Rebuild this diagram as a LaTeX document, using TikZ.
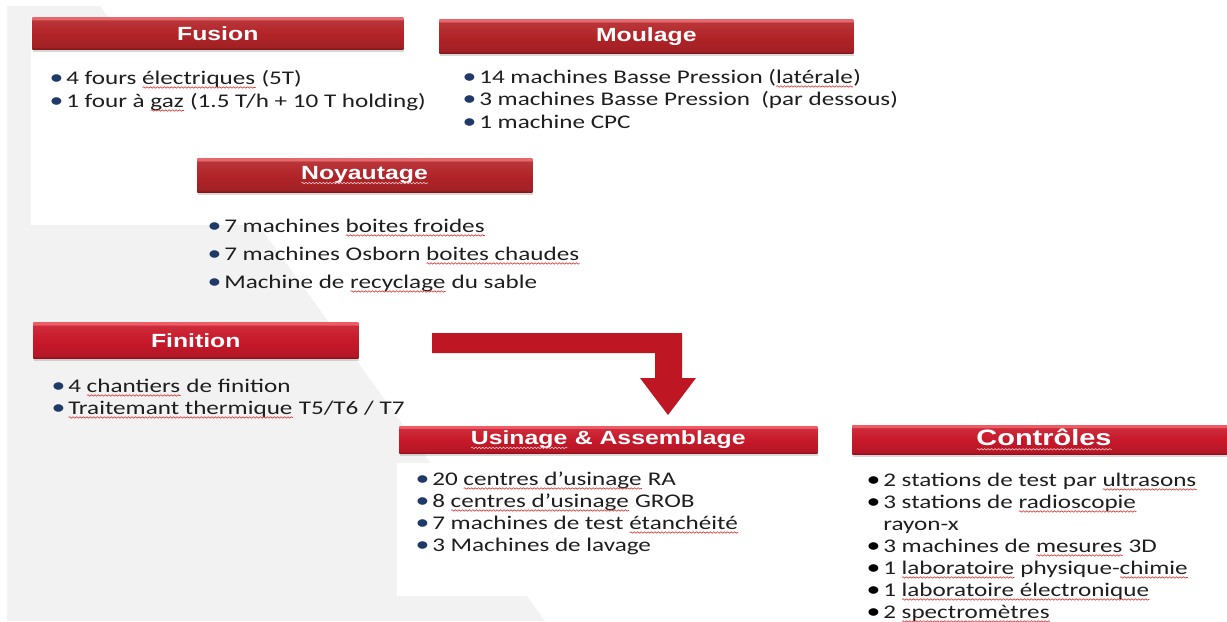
\documentclass[tikz,border=0pt]{standalone}
\usepackage{fontspec}
\usetikzlibrary{shadows,decorations.pathmorphing}

\newfontfamily\bodyfont{Carlito}[FakeStretch=1.3]
\newfontfamily\titlefont{Liberation Sans}[FakeStretch=1.3]

\definecolor{bggray}{HTML}{F2F2F2}
\definecolor{txt}{HTML}{1E1E1E}
\definecolor{bulblue}{HTML}{1F3A68}
\definecolor{arrowred}{HTML}{BE1622}
\definecolor{wavered}{HTML}{E03030}
\definecolor{wavepink}{HTML}{F3C4C6}
\definecolor{darkA}{HTML}{7A1417}
\definecolor{mainA}{HTML}{B22428}
\definecolor{lightA}{HTML}{E4686C}
\definecolor{darkB}{HTML}{8A0F18}
\definecolor{mainB}{HTML}{C8192A}
\definecolor{lightB}{HTML}{EE5C66}

% bevelled bars, bottom to top
\pgfdeclareverticalshading{bevelA}{100bp}{color(0bp)=(darkA); color(25bp)=(darkA);
  color(28bp)=(mainA!90!black); color(50bp)=(mainA); color(70bp)=(mainA!92!white);
  color(72bp)=(lightA); color(75bp)=(lightA); color(100bp)=(lightA)}
\pgfdeclareverticalshading{bevelB}{100bp}{color(0bp)=(darkB); color(25bp)=(darkB);
  color(28bp)=(mainB!90!black); color(50bp)=(mainB); color(70bp)=(mainB!92!white);
  color(72bp)=(lightB); color(75bp)=(lightB); color(100bp)=(lightB)}

% spell-check squiggle under a word
\newsavebox\wbox
\newcommand\wavy[2]{\sbox\wbox{#2}\rlap{\usebox\wbox}\tikz[baseline=0pt]\draw[#1, line width=0.45pt,
    decorate, decoration={snake, segment length=2.6pt, amplitude=0.55pt}]
    (0pt,-2.6pt) -- (\the\wd\wbox,-2.6pt);}
\newcommand\wv[1]{\wavy{wavered}{#1}}
\newcommand\wvt[1]{\wavy{wavepink}{#1}}
\newcommand\itm[1][bulblue]{\makebox[10.5pt][l]{\hspace*{-2pt}\textcolor{#1}{\fontsize{16}{16}\selectfont•}}}

\begin{document}
\begin{tikzpicture}[x=0.75pt,y=-0.75pt,
  bar/.style={anchor=north west, inner sep=0pt, text=white,
    font=\titlefont\bfseries\fontsize{14.3}{17}\selectfont,
    drop shadow={shadow xshift=0.6pt, shadow yshift=-2.2pt, opacity=0.3}},
  darkbar/.style={bar, shading=bevelA},
  brightbar/.style={bar, shading=bevelB},
  item/.style={anchor=base west, inner sep=0pt, text=txt,
    font=\bodyfont\fontsize{14.5}{17}\selectfont}]
  \useasboundingbox (0,0) rectangle (1227,621);

  % background
  \fill[bggray] (7,6) -- (100,6) -- (545,621) -- (7,621) -- cycle;
  \fill[white] (31,17) rectangle (600,225);
  \fill[white] (397,463) rectangle (700,596);

  % bars
  \node[darkbar, minimum width=278.25pt, minimum height=24pt] (fusion) at (32,17) {Fusion};
  \node[darkbar, minimum width=310.5pt, minimum height=25.5pt] (moulage) at (439,19) {Moulage};
  \node[darkbar, minimum width=251.25pt, minimum height=25.5pt] (noyau) at (197,158) {\wvt{Noyautage}};
  \node[brightbar, minimum width=243.75pt, minimum height=27pt] (finition) at (33,322) {Finition};
  \node[brightbar, minimum width=313.5pt, minimum height=20.25pt] (usinage) at (399,426) {\wvt{Usinage} \& Assemblage};
  \node[brightbar, minimum width=288pt, minimum height=21.75pt,
    font=\titlefont\bfseries\fontsize{16.7}{20}\selectfont] (controles) at (852,425) {\wvt{Contrôles}};

  % arrow
  \coordinate (arr) at (432,333);
  \fill[arrowred] (arr) -- (682,333) -- (682,378) -- (696,378) -- (668,415)
    -- (640,378) -- (655,378) -- (655,353) -- (432,353) -- cycle;

  % lists
  \foreach \y/\t [count=\i] in {84/{4 fours \wv{électriques} (5T)},
      107/{1 four à \wv{gaz} (1.5 T/h + 10 T holding)}}
    \node[item] (fus\i) at (52,\y) {\itm\t};
  \foreach \y/\t [count=\i] in {83/{14 machines Basse Pression (\wv{latérale})},
      105.5/{3 machines Basse Pression\ \ (par dessous)}, 128/{1 machine CPC}}
    \node[item] (mou\i) at (465,\y) {\itm\t};
  \foreach \y/\t [count=\i] in {232/{7 machines \wv{boites froides}},
      260/{7 machines Osborn \wv{boites chaudes}}, 288/{Machine de \wv{recyclage} du sable}}
    \node[item] (noy\i) at (210,\y) {\itm\t};
  \foreach \y/\t [count=\i] in {392/{4 \wv{chantiers} de finition},
      414/{\wv{Traitemant thermique} T5/T6 / T7}}
    \node[item] (fin\i) at (54,\y) {\itm\t};
  \foreach \y/\t [count=\i] in {485/{20 \wv{centres d’usinage} RA},
      507/{8 \wv{centres d’usinage} GROB}, 529/{7 machines de test \wv{étanchéité}},
      551/{3 Machines de lavage}}
    \node[item] (usi\i) at (418,\y) {\itm\t};
  \foreach \y/\t [count=\i] in {486/{2 stations de test par \wv{ultrasons}},
      508/{3 stations de \wv{radioscopie}}, 552/{3 machines de \wv{mesures} 3D},
      574/{1 \wv{laboratoire} physique-\wv{chimie}}, 596/{1 \wv{laboratoire électronique}},
      618/{2 \wv{spectromètres}}}
    \node[item] (ctl\i) at (869,\y) {\itm[black]\t};
  \node[item] (ctlx) at (883,530) {rayon-x};
\end{tikzpicture}
\end{document}
